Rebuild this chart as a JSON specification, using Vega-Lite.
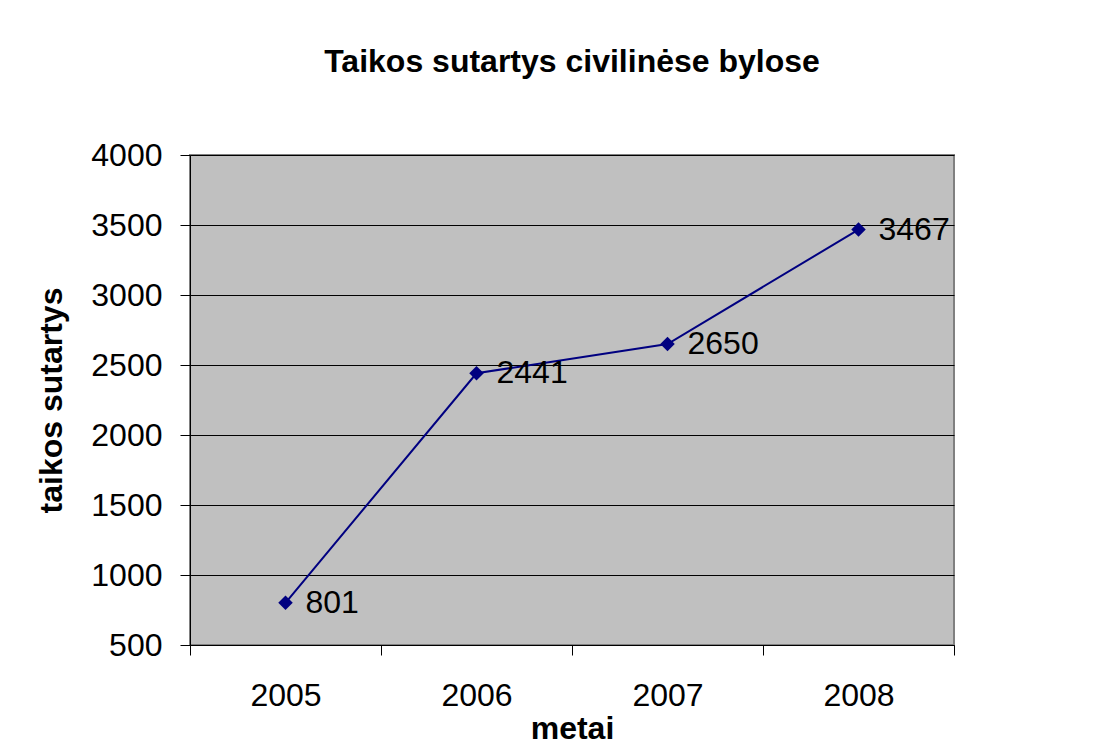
{
  "$schema": "https://vega.github.io/schema/vega-lite/v6.json",
  "width": 764,
  "height": 490,
  "autosize": {"type": "none"},
  "padding": {"left": 190, "top": 155, "right": 155, "bottom": 107},
  "background": "white",
  "title": {
    "text": "Taikos sutartys civilinėse bylose",
    "font": "Liberation Sans",
    "fontSize": 32,
    "fontWeight": "bold",
    "color": "black",
    "anchor": "middle",
    "baseline": "alphabetic",
    "offset": 35
  },
  "data": {
    "values": [
      {"year": 2005, "value": 801},
      {"year": 2006, "value": 2441},
      {"year": 2007, "value": 2650},
      {"year": 2008, "value": 3467}
    ]
  },
  "encoding": {
    "y": {
      "field": "value",
      "type": "quantitative",
      "scale": {"domain": [500, 4000], "nice": false, "zero": false},
      "axis": {
        "values": [500, 1000, 1500, 2000, 2500, 3000, 3500, 4000],
        "format": "d",
        "title": "taikos sutartys",
        "titleFont": "Liberation Sans",
        "titleFontSize": 32,
        "titleFontWeight": "bold",
        "titleColor": "black",
        "titlePadding": 22,
        "labelFont": "Liberation Sans",
        "labelFontSize": 32,
        "labelColor": "black",
        "labelPadding": 18,
        "tickSize": 10,
        "tickColor": "black",
        "domainColor": "black",
        "grid": true,
        "gridColor": "black",
        "gridOpacity": 1,
        "gridWidth": 1
      }
    }
  },
  "layer": [
    {
      "mark": {"type": "line", "color": "#000080", "strokeWidth": 2},
      "encoding": {
        "x": {
          "field": "year",
          "type": "quantitative",
          "scale": {"domain": [2004.5, 2008.5], "nice": false, "zero": false},
          "axis": {
            "orient": "bottom",
            "values": [2004.5, 2005.5, 2006.5, 2007.5, 2008.5],
            "labels": false,
            "tickSize": 10,
            "tickColor": "black",
            "domainColor": "black",
            "grid": false,
            "title": null
          }
        }
      }
    },
    {
      "mark": {"type": "point", "shape": "diamond", "filled": true, "size": 210, "color": "#000080", "opacity": 1},
      "encoding": {
        "x": {
          "field": "year",
          "type": "quantitative",
          "axis": {
            "orient": "bottom",
            "values": [2005, 2006, 2007, 2008],
            "format": "d",
            "ticks": false,
            "tickSize": 0,
            "domain": false,
            "grid": false,
            "labelFont": "Liberation Sans",
            "labelFontSize": 32,
            "labelColor": "black",
            "labelPadding": 35,
            "title": "metai",
            "titleFont": "Liberation Sans",
            "titleFontSize": 32,
            "titleFontWeight": "bold",
            "titleColor": "black",
            "titlePadding": 2
          }
        }
      }
    },
    {
      "mark": {"type": "text", "align": "left", "baseline": "middle", "dx": 20, "font": "Liberation Sans", "fontSize": 32, "color": "black"},
      "encoding": {
        "x": {"field": "year", "type": "quantitative", "axis": null},
        "text": {"field": "value", "type": "quantitative", "format": "d"}
      }
    }
  ],
  "resolve": {"axis": {"x": "independent"}},
  "config": {
    "view": {"fill": "#C0C0C0", "stroke": "#808080", "strokeWidth": 2}
  }
}
